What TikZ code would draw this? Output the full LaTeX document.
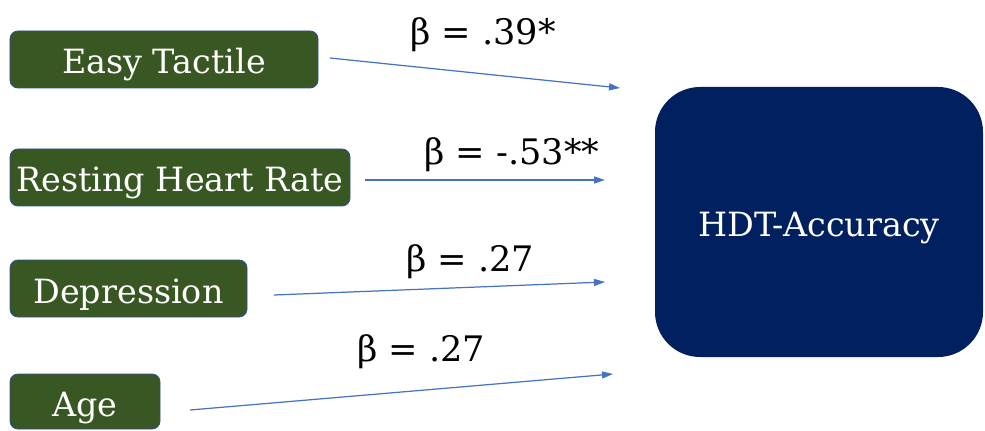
\documentclass[tikz,border=0pt]{standalone}
\usepackage{fontspec}
\newfontfamily\hdtserif{DejaVu Serif}
\usetikzlibrary{arrows.meta}

\definecolor{hdtgreen}{RGB}{56,87,35}
\definecolor{hdtedge}{RGB}{47,82,143}
\definecolor{hdtnavy}{RGB}{0,32,96}
\definecolor{hdtblue}{RGB}{68,114,196}

\begin{document}
\begin{tikzpicture}[
  x=1cm,
  y=1cm,
  every node/.style={inner sep=0pt, outer sep=0pt},
  predbox/.style={draw=hdtedge, fill=hdtgreen, rounded corners=0.16cm, line width=0.5pt,
    text=white, font=\hdtserif\fontsize{19}{22}\selectfont, minimum height=1.14cm,
    text height=0.58cm, text depth=0cm},
  outbox/.style={fill=hdtnavy, rounded corners=0.9cm, text=white,
    font=\hdtserif\fontsize{19}{22}\selectfont, minimum width=6.56cm, minimum height=5.4cm,
    text height=0.58cm, text depth=0cm},
  betalabel/.style={font=\hdtserif\fontsize{20}{23}\selectfont, text=black},
  path/.style={draw=hdtblue, line width=0.7pt, -{Triangle[length=0.22cm, width=0.14cm]}}
]

  \path[use as bounding box] (0,0) rectangle (19.7,8.6);

  % Predictors
  \node[predbox, minimum width=6.16cm] (tactile) at (3.28,7.41) {Easy Tactile};
  \node[predbox, minimum width=6.8cm] (heart) at (3.6,5.05) {Resting Heart Rate};
  \node[predbox, minimum width=4.74cm] (depr) at (2.57,2.83) {Depression};
  \node[predbox, minimum width=3.0cm, minimum height=1.1cm] (age) at (1.7,0.57) {Age};

  % Outcome
  \node[outbox] (hdt) at (16.38,4.16) {HDT-Accuracy};

  % Arrow ends
  \coordinate (t1) at (12.4,6.84);
  \coordinate (t2) at (12.1,5.0);
  \coordinate (t3) at (12.1,2.96);
  \coordinate (t4) at (12.26,1.12);

  % Arrows
  \draw[path] ([shift={(0.24,0.03)}]tactile.east) -- (t1);
  \draw[path] ([shift={(0.3,-0.05)}]heart.east) -- (t2);
  \draw[path] ([shift={(0.54,-0.13)}]depr.east) -- (t3);
  \draw[path] ([shift={(0.6,-0.17)}]age.east) -- (t4);

  % Coefficients
  \node[betalabel] (b1) at (9.66,7.9) {β = .39*};
  \node[betalabel] (b2) at (10.24,5.5) {β = -.53**};
  \node[betalabel] (b3) at (9.4,3.36) {β = .27};
  \node[betalabel] (b4) at (8.42,1.56) {β = .27};

\end{tikzpicture}
\end{document}
